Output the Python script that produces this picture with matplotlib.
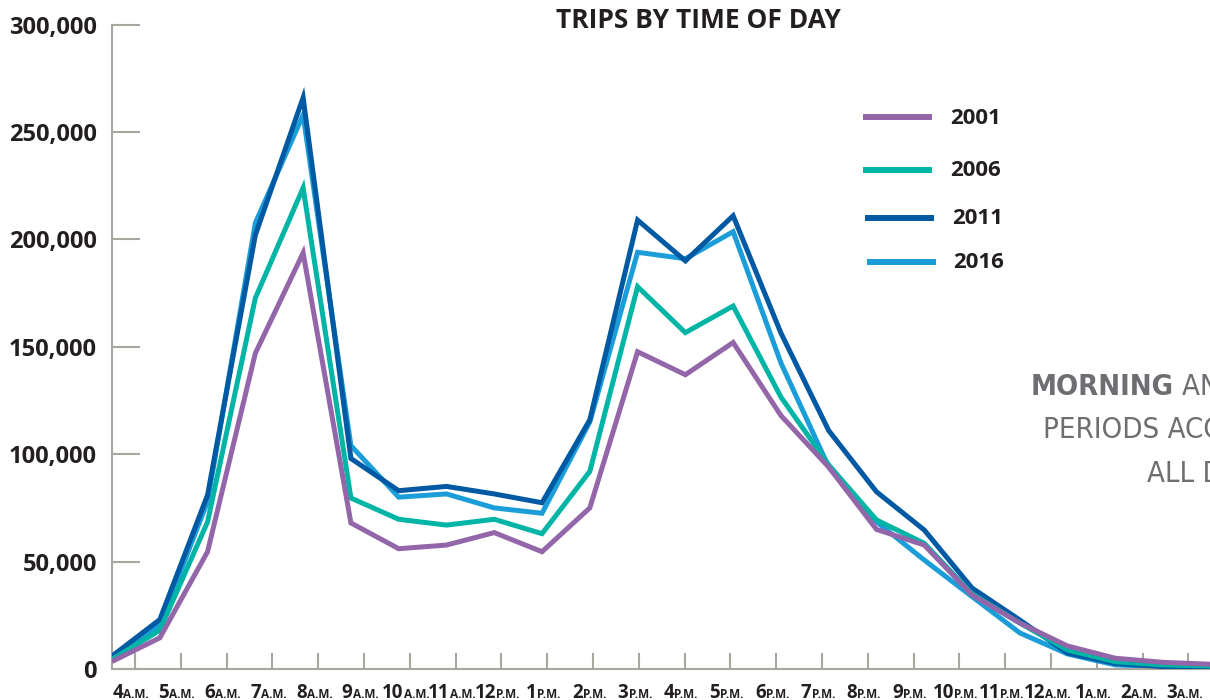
import numpy as np
import matplotlib
matplotlib.use("Agg")
import matplotlib.pyplot as plt
import matplotlib.font_manager as fm
from matplotlib.lines import Line2D

# trips by hour of day (4 a.m. through 3 a.m.)
hour_digits = ['4', '5', '6', '7', '8', '9', '10', '11', '12', '1', '2', '3',
               '4', '5', '6', '7', '8', '9', '10', '11', '12', '1', '2', '3']
hour_suffix = ['A.M.'] * 8 + ['P.M.'] * 12 + ['A.M.'] * 4

years = ['2001', '2006', '2011', '2016']
trips_2001 = [3500, 14500, 54600, 147000, 193700, 68000, 56000, 57700, 63500, 54600, 75000, 147700,
              137000, 152000, 118000, 94000, 65000, 57700, 34500, 21400, 10700, 5000, 3100, 2200]
trips_2006 = [4500, 18000, 68500, 172700, 224000, 79600, 69700, 67000, 69700, 63000, 92000, 178000,
              156600, 169000, 126600, 95000, 69400, 58500, 35000, 21400, 8800, 3400, 1900, 1400]
trips_2011 = [6000, 23000, 81000, 202000, 266000, 98000, 83000, 85000, 81500, 77400, 116000, 209000,
              190000, 211000, 156400, 111000, 82500, 64700, 37700, 22800, 7400, 2600, 1100, 800]
trips_2016 = [5500, 20500, 78000, 207600, 258000, 104000, 80000, 81500, 75000, 72500, 115000, 194000,
              191000, 203600, 142500, 94000, 68600, 50700, 33700, 16800, 7000, 1900, 1100, 800]
y_ticks = [0, 50000, 100000, 150000, 200000, 250000, 300000]

colors = {'2001': '#9366a9', '2006': '#00b4a6', '2011': '#0059a3', '2016': '#1b9dd9'}
series = {'2001': trips_2001, '2006': trips_2006, '2011': trips_2011, '2016': trips_2016}
zorders = {'2001': 5, '2006': 4, '2011': 3, '2016': 2}
axis_grey = '#a8a69f'
text_dark = '#231f20'
note_grey = '#6d6e71'
bold_font = ['Open Sans', 'DejaVu Sans']


def narrow_font(bold):
    # look for a condensed / narrow face; None if nothing suitable is installed
    for f in fm.fontManager.ttflist:
        nm = f.name.lower()
        stretch = str(f.stretch).lower()
        if 'narrow' in nm or 'condensed' in nm or 'condensed' in stretch:
            w = f.weight if isinstance(f.weight, int) else fm.weight_dict.get(f.weight, 400)
            if 'italic' in str(f.style) or 'oblique' in str(f.style):
                continue
            if (w >= 600) == bold and 250 < w < 900:
                return fm.FontProperties(fname=f.fname)
    return None


W, H = 1210, 700
fig = plt.figure(figsize=(W / 100, H / 100), dpi=100)
ax = fig.add_axes([112 / W, (H - 669) / H, (W - 112) / W, 644.4 / H])
renderer = fig.canvas.get_renderer()

x = np.arange(len(hour_digits))
for yr in years:
    ax.plot(x, series[yr], color=colors[yr], lw=3.6, zorder=zorders[yr],
            solid_joinstyle='miter', solid_capstyle='butt')

ax.set_xlim(0, 22.98)
ax.set_ylim(0, 300000)

for s in ['top', 'right']:
    ax.spines[s].set_visible(False)
for s in ['left', 'bottom']:
    ax.spines[s].set_color(axis_grey)
    ax.spines[s].set_linewidth(1.5)

# y axis: inward ticks, bold comma labels
ax.set_yticks(y_ticks)
ax.set_yticklabels([f'{v:,}' for v in y_ticks], fontfamily=bold_font,
                   fontweight='bold', fontsize=17, color=text_dark)
ax.tick_params(axis='y', direction='in', length=20, width=1.5, color=axis_grey, pad=11)

# x axis: ticks sit between the hours, labels built from two sizes
tick_pos = np.linspace(0.48, 22.53, 24)
ax.set_xticks(tick_pos)
ax.set_xticklabels([])
ax.tick_params(axis='x', direction='in', length=11.5, width=1.5, color=axis_grey)

base_y = 2 / H
for i, (d, suf) in enumerate(zip(hour_digits, hour_suffix)):
    t1 = fig.text(0, base_y, d, ha='left', va='baseline', fontfamily=bold_font,
                  fontweight='bold', fontsize=13.5, color=text_dark)
    t2 = fig.text(0, base_y, suf, ha='left', va='baseline', fontfamily=bold_font,
                  fontweight='bold', fontsize=8.5, color=text_dark)
    w1 = t1.get_window_extent(renderer).width
    w2 = t2.get_window_extent(renderer).width
    cx = ax.transData.transform((tick_pos[i], 0))[0] - 4
    left = cx - (w1 + w2) / 2
    t1.set_x(left / W)
    t2.set_x((left + w1) / W)

# title
fig.text(698 / W, 1 - 21 / H, 'TRIPS BY TIME OF DAY', ha='center', va='center',
         fontfamily=bold_font, fontweight='bold', fontsize=19, color=text_dark)

# legend drawn by hand
leg = [('2001', 863, 932, 117, 950), ('2006', 863, 932, 170, 950),
       ('2011', 865, 934, 218, 952), ('2016', 867, 936, 262, 953)]
for yr, x0, x1, yy, tx in leg:
    fig.add_artist(Line2D([x0 / W, x1 / W], [1 - yy / H, 1 - yy / H],
                          color=colors[yr], lw=4.3, solid_capstyle='butt'))
    fig.text(tx / W, 1 - (yy + 1) / H, yr, ha='left', va='center',
             fontfamily=bold_font, fontweight='bold', fontsize=16, color=text_dark)

# side note, cut by the page edge as in the original
nb = narrow_font(True)
nr = narrow_font(False)
if nb is None or nr is None:
    nb = fm.FontProperties(family=['Roboto', 'DejaVu Sans'], weight='bold')
    nr = fm.FontProperties(family=['Roboto', 'DejaVu Sans'], weight='light')
    nb.set_size(18)
    nr.set_size(18)
else:
    nb.set_size(21)
    nr.set_size(21)
t = fig.text(1031 / W, 1 - 395 / H, 'MORNING', ha='left', va='baseline',
             fontproperties=nb, color=note_grey)
x_and = t.get_window_extent(renderer).x1 + 8
fig.text(x_and / W, 1 - 395 / H, 'AND EVENING PEAK', ha='left', va='baseline',
         fontproperties=nr, color=note_grey)
fig.text(1043 / W, 1 - 438 / H, 'PERIODS ACCOUNT FOR', ha='left', va='baseline',
         fontproperties=nr, color=note_grey)
fig.text(1147 / W, 1 - 481.7 / H, 'ALL DAILY TRIPS', ha='left', va='baseline',
         fontproperties=nr, color=note_grey)

fig.savefig('out.png', dpi=100)
